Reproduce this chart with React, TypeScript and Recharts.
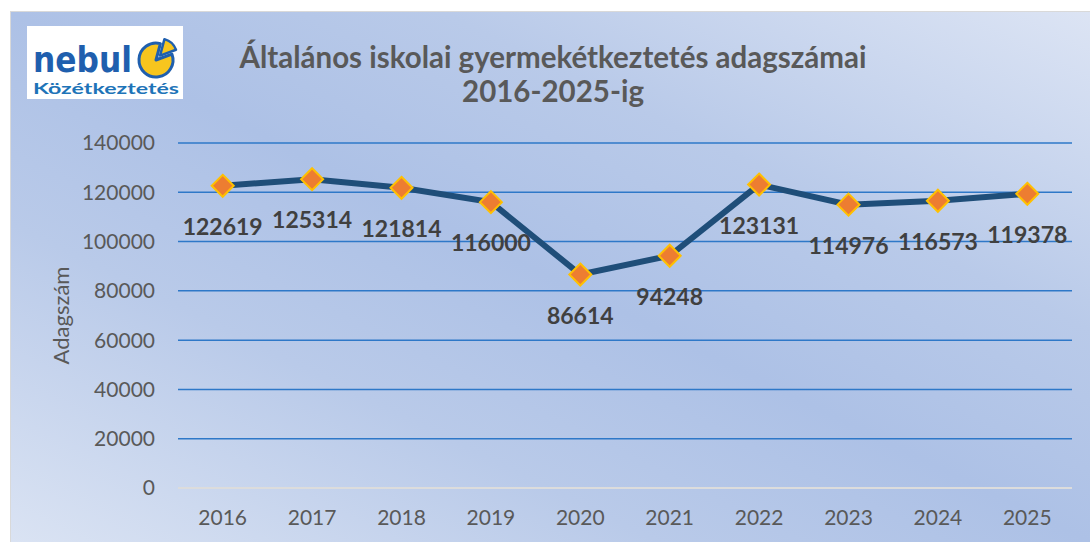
import React from "react";
import { LineChart, Line, XAxis, YAxis, CartesianGrid, ReferenceLine, LabelList } from "recharts";

const years = ["2016", "2017", "2018", "2019", "2020", "2021", "2022", "2023", "2024", "2025"];
const portions = [122619, 125314, 121814, 116000, 86614, 94248, 123131, 114976, 116573, 119378];
const yTicks = [0, 20000, 40000, 60000, 80000, 100000, 120000, 140000];

const titleLine1 = "Általános iskolai gyermekétkeztetés adagszámai";
const titleLine2 = "2016-2025-ig";
const yAxisTitle = "Adagszám";
const logoMain = "nebul";
const logoSub = "Közétkeztetés";

const data = years.map((y, i) => ({ year: y, value: portions[i] }));

const FONT = "Lato, 'Open Sans', sans-serif";
const W = 1080;
const H = 531;

const Diamond = (props: any) => {
  const { cx, cy } = props;
  if (cx == null || cy == null) return null;
  const r = 11;
  return (
    <path
      d={`M${cx},${cy - r} L${cx + r},${cy} L${cx},${cy + r} L${cx - r},${cy} Z`}
      fill="#ed7d31"
      stroke="#ffc000"
      strokeWidth={2}
    />
  );
};

const ValueLabel = (props: any) => {
  const { x, y, value } = props;
  return (
    <text
      x={x}
      y={y + 49}
      textAnchor="middle"
      fontFamily={FONT}
      fontWeight={700}
      fontSize={23}
      fill="#404040"
    >
      {value}
    </text>
  );
};

const AxisTitle = (props: any) => {
  const vb = props.viewBox || { x: 0, y: 0, width: 0, height: 0 };
  const cx = 50;
  const cy = vb.y + vb.height / 2;
  return (
    <text
      x={cx}
      y={cy}
      transform={`rotate(-90 ${cx} ${cy})`}
      textAnchor="middle"
      dominantBaseline="central"
      fontFamily={FONT}
      fontSize={22}
      fill="#595959"
    >
      {yAxisTitle}
    </text>
  );
};

export default function App() {
  return (
    <div
      style={{
        position: "absolute",
        left: 10,
        top: 11,
        width: W,
        height: H,
        background:
          "linear-gradient(to top right, #dae3f3 0%, #b9cae9 30%, #adc1e6 50%, #b9cae9 70%, #dce4f4 100%)",
        borderTop: "1px solid #d9d9d9",
        borderLeft: "1px solid #d9d9d9",
        boxSizing: "border-box",
      }}
    >
      <LineChart
        width={W}
        height={H}
        data={data}
        margin={{ top: 132, right: 18, bottom: 24, left: 0 }}
        style={{ position: "absolute", left: -1, top: -1 }}
      >
        <CartesianGrid vertical={false} stroke="#2e78c8" strokeWidth={1.5} />
        <XAxis
          dataKey="year"
          height={30}
          axisLine={false}
          tickLine={false}
          tickSize={0}
          tickMargin={22}
          padding={{ left: 44.7, right: 44.7 }}
          tick={{ fill: "#595959", fontSize: 21, fontFamily: FONT }}
          interval={0}
        />
        <YAxis
          width={168}
          domain={[0, 140000]}
          ticks={yTicks}
          axisLine={false}
          tickLine={false}
          tickSize={0}
          tickMargin={23}
          tick={{ fill: "#595959", fontSize: 21, fontFamily: FONT }}
          label={{ content: AxisTitle }}
        />
        <ReferenceLine y={0} stroke="#dcdcdc" strokeWidth={2} />
        <Line
          type="linear"
          dataKey="value"
          stroke="#1f4e79"
          strokeWidth={6}
          dot={<Diamond />}
          activeDot={false}
          isAnimationActive={false}
        >
          <LabelList dataKey="value" content={ValueLabel} />
        </Line>
      </LineChart>
      <svg
        width={W}
        height={H}
        style={{ position: "absolute", left: -1, top: -1, pointerEvents: "none" }}
      >
        <text
          x={543}
          y={57}
          textAnchor="middle"
          fontFamily={FONT}
          fontWeight={700}
          fontSize={29.5}
          fill="#595959"
        >
          {titleLine1}
        </text>
        <text
          x={543}
          y={91}
          textAnchor="middle"
          fontFamily={FONT}
          fontWeight={700}
          fontSize={29.5}
          fill="#595959"
        >
          {titleLine2}
        </text>
        <g transform="translate(17,15)">
          <rect x={0} y={0} width={156} height={73} fill="#ffffff" />
          <text
            x={6}
            y={46}
            fontFamily="'DejaVu Sans Condensed', 'DejaVu Sans', sans-serif"
            fontWeight={700}
            fontSize={36}
            fill="#1f5fae"
            textLength={99}
            lengthAdjust="spacingAndGlyphs"
          >
            {logoMain}
          </text>
          <path
            d="M129,34 L144.97,28.19 A17,17 0 1 1 133.4,17.58 Z"
            fill="#f7c51e"
            stroke="#1f5fae"
            strokeWidth={3}
            strokeLinejoin="round"
          />
          <path
            d="M133.05,29.58 L137.45,13.16 A17,17 0 0 1 149,23.77 Z"
            fill="#f7c51e"
            stroke="#1f5fae"
            strokeWidth={2.5}
            strokeLinejoin="round"
          />
          <text
            x={6}
            y={68}
            fontFamily={FONT}
            fontWeight={700}
            fontSize={15}
            fill="#1e74b8"
            textLength={146}
            lengthAdjust="spacingAndGlyphs"
          >
            {logoSub}
          </text>
        </g>
      </svg>
    </div>
  );
}
